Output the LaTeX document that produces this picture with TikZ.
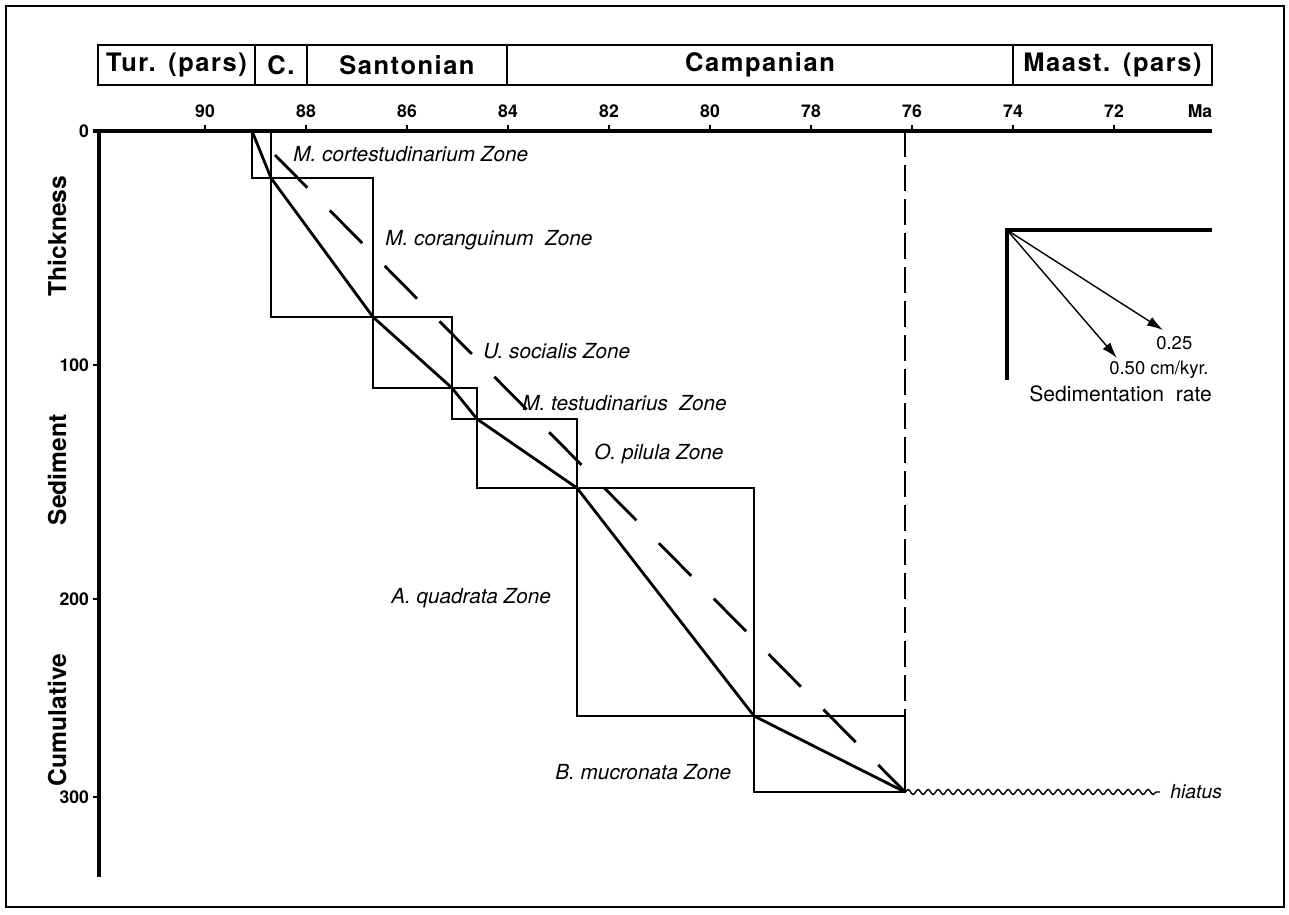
\documentclass[tikz,border=0pt]{standalone}
\usepackage{fontspec}
\setmainfont{TeX Gyre Heros}
\newfontfamily\stagefont[LetterSpace=6]{TeX Gyre Heros}
\usetikzlibrary{arrows.meta,decorations.pathmorphing}

\begin{document}
\begin{tikzpicture}[
    x=0.02cm, y=-0.02cm,
    stagebox/.style={draw, line width=1.1pt},
    stagelabel/.style={font=\stagefont\fontsize{14.5}{16}\selectfont\bfseries},
    ticklabel/.style={font=\fontsize{10}{11}\selectfont\bfseries, inner sep=1pt},
    axislabel/.style={font=\fontsize{14}{15}\selectfont\bfseries, rotate=90},
    zonebox/.style={draw, line width=0.7pt},
    zonelabel/.style={font=\fontsize{11.8}{13}\selectfont\itshape, anchor=west, inner sep=0pt},
    ratelabel/.style={font=\fontsize{10.5}{12}\selectfont, anchor=west, inner sep=0pt},
    rateline/.style={line width=1.6pt, line join=round},
    meanline/.style={line width=1.6pt, dash pattern=on 0.92cm off 0.64cm},
    gapline/.style={line width=0.9pt, dash pattern=on 0.52cm off 0.16cm},
    hiatusline/.style={line width=0.8pt, decorate,
                       decoration={snake, segment length=0.2cm, amplitude=0.05cm}},
    axisline/.style={line width=2.3pt},
    arrow/.style={-{Latex[length=0.32cm,width=0.2cm]}, line width=0.8pt},
  ]
    \useasboundingbox (0,0) rectangle (1289,915);
    \draw[line width=1.1pt] (6,6) rectangle (1284,907);

    % stages
    \foreach \xa/\xb/\name [count=\i] in {98/255/Tur.\enspace(pars), 255/307/C.,
        307/507/Santonian, 507/1013/Campanian, 1013/1212/Maast.\enspace(pars)} {
      \draw[stagebox] (\xa,45) rectangle (\xb,85);
      \node[stagelabel] (stage\i) at ({(\xa+\xb)/2},65) {\name};
    }

    % axes
    \draw[axisline] (93,131) -- (1212,131);
    \draw[axisline] (99,129) -- (99,877);
    \foreach \t in {90,88,...,72} {
      \pgfmathsetmacro\xx{508+(84-\t)*50.5}
      \draw[line width=0.9pt] (\xx,131) -- (\xx,125);
      \node[ticklabel, anchor=base] (age\t) at (\xx,118) {\t};
    }
    \node[ticklabel, anchor=base] (ma) at (1200,118) {Ma};
    \foreach \d/\yy in {0/131,100/365,200/599,300/797} {
      \draw[line width=0.9pt] (93,\yy) -- (99,\yy);
      \node[ticklabel, anchor=east] (depth\d) at (91,\yy) {\d};
    }
    \node[axislabel] (thick) at (57,236) {Thickness};
    \node[axislabel] (sedim) at (57,470) {Sediment};
    \node[axislabel] (cumul) at (57,720) {Cumulative};

    % zone boundaries
    \coordinate (c0) at (252,131);
    \coordinate (c1) at (271,178);
    \coordinate (c2) at (373,317);
    \coordinate (c3) at (452,388);
    \coordinate (c4) at (477,419);
    \coordinate (c5) at (577,488);
    \coordinate (c6) at (754,716);
    \coordinate (c7) at (905,792);
    \foreach \i [evaluate=\i as \j using int(\i+1)] in {0,...,6}
      \draw[zonebox] (c\i) rectangle (c\j);
    \draw[rateline] (c0) -- (c1) -- (c2) -- (c3) -- (c4) -- (c5) -- (c6) -- (c7);
    \coordinate (d0) at (275,155);
    \draw[meanline] (d0) -- (c7);

    \node[zonelabel] (zcort) at (293,154) {M.\ cortestudinarium\ Zone};
    \node[zonelabel] (zcora) at (385,240) {M.\ coranguinum\ \ Zone};
    \node[zonelabel] (zsoc)  at (483,351) {U.\ socialis Zone};
    \node[zonelabel] (ztest) at (522,403) {M.\ testudinarius\ \ Zone};
    \node[zonelabel] (zpil)  at (594,454) {O.\ pilula Zone};
    \node[zonelabel] (zquad) at (391,598) {A.\ quadrata Zone};
    \node[zonelabel] (zmuc)  at (555,772) {B.\ mucronata Zone};

    % hiatus
    \coordinate (top76) at (905,131);
    \coordinate (gapend) at (1160,792);
    \draw[gapline] (top76) -- (c7);
    \draw[hiatusline] (c7) -- (gapend);
    \node[zonelabel, font=\fontsize{11}{13}\selectfont\itshape] (hiatus) at (1170,792) {hiatus};

    % sedimentation rate key
    \coordinate (rate0) at (1007,230);
    \coordinate (tip25) at (1163,330);
    \coordinate (tip50) at (1117,358);
    \draw[axisline] (1007,380) -- (rate0) -- (1212,230);
    \draw[arrow] (rate0) -- (tip25);
    \draw[arrow] (rate0) -- (tip50);
    \node[ratelabel] (lab25) at (1156,343) {0.25};
    \node[ratelabel] (lab50) at (1109,370) {0.50 cm/kyr.};
    \node[ratelabel, font=\fontsize{12}{14}\selectfont] (labrate) at (1029,394) {Sedimentation\ \ rate};
  \end{tikzpicture}
\end{document}
